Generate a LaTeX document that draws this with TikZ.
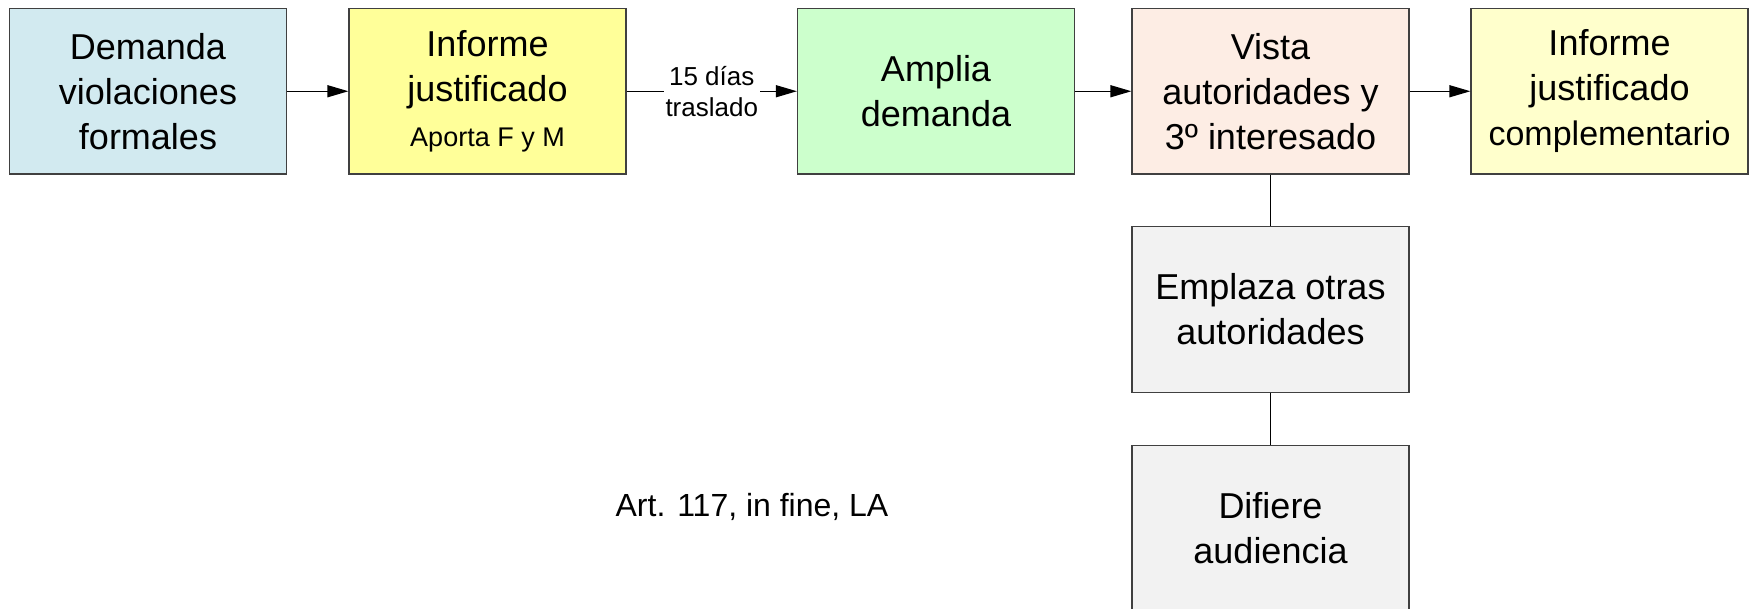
\documentclass[tikz,border=0pt]{standalone}
\usepackage{fontspec}
\setmainfont{Liberation Sans}
\usetikzlibrary{arrows.meta}
\definecolor{cblue}{HTML}{D2EAF0}
\definecolor{cyel}{HTML}{FFFF99}
\definecolor{cgreen}{HTML}{CCFFCC}
\definecolor{cpeach}{HTML}{FDEDE4}
\definecolor{clyel}{HTML}{FFFFCC}
\definecolor{cgray}{HTML}{F2F2F2}
\definecolor{cborder}{HTML}{404040}
\begin{document}
\begin{tikzpicture}[x=1pt,y=-1pt,
  box/.style={draw=cborder, line width=1.2pt, minimum width=277pt, minimum height=165.5pt,
    align=center, inner sep=0pt, font=\fontsize{36}{45}\selectfont},
  conn/.style={line width=1.3pt, -{Triangle[length=21pt,width=12pt]}},
  link/.style={line width=1.3pt},
  edgelabel/.style={fill=white, inner sep=1.5pt, align=center, font=\fontsize{26}{31}\selectfont},
  smalltext/.style={font=\fontsize{32}{38}\selectfont}]
\clip (0,0) rectangle (1755,609);
\node[box, fill=cblue] (b1) at (148,91.25) {Demanda\\violaciones\\formales};
\node[box, fill=cyel] (b2) at (487.5,91.25) {Informe\\justificado\\{\fontsize{27}{45}\selectfont Aporta F y M}};
\node[box, fill=cgreen] (b3) at (936,91.25) {Amplia\\demanda};
\node[box, fill=cpeach] (b4) at (1270.5,91.25) {Vista\\autoridades y\\3º interesado};
\node[box, fill=clyel] (b5) at (1609.5,91.25) {Informe\\justificado\\{\fontsize{34}{45}\selectfont complementario}};
\node[box, fill=cgray] (b6) at (1270.5,309.5) {Emplaza otras\\autoridades};
\node[box, fill=cgray] (b7) at (1270.5,528.5) {Difiere\\audiencia};
\node[smalltext] (art) at (752,507) {Art. 117, in fine, LA};
\draw[conn] (b1.east) -- (b2.west);
\draw[conn] (b2.east) -- node[edgelabel] (l1) {15 días\\traslado} (b3.west);
\draw[conn] (b3.east) -- (b4.west);
\draw[conn] (b4.east) -- (b5.west);
\draw[link] (b4.south) -- (b6.north);
\draw[link] (b6.south) -- (b7.north);
\end{tikzpicture}
\end{document}
